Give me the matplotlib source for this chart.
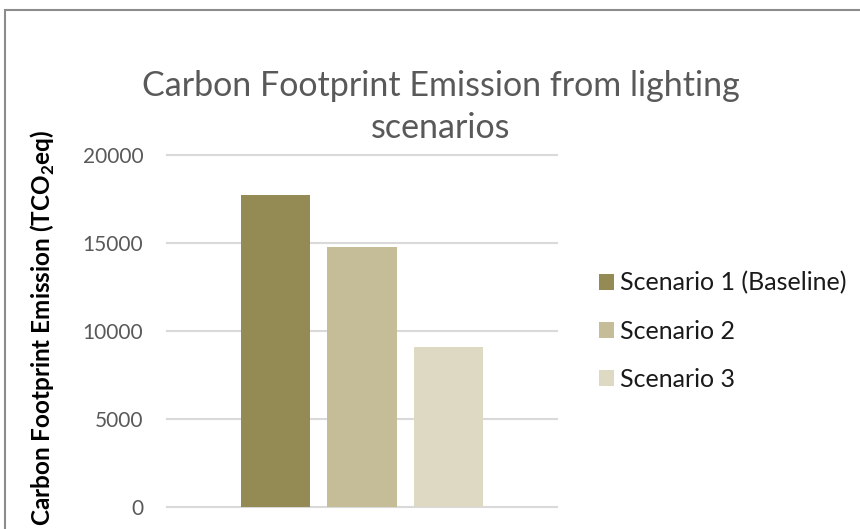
import matplotlib.pyplot as plt
from matplotlib.patches import Rectangle

scenarios = ["Scenario 1 (Baseline)", "Scenario 2", "Scenario 3"]
emissions = [17700, 14800, 9100]
colors = ["#948a54", "#c4bd97", "#ddd9c3"]
yticks = [0, 5000, 10000, 15000, 20000]

plt.rcParams['font.family'] = ['Lato', 'DejaVu Sans']
plt.rcParams['mathtext.fontset'] = 'custom'
plt.rcParams['mathtext.rm'] = 'Lato'
plt.rcParams['mathtext.bf'] = 'Lato:bold'

fig = plt.figure(figsize=(8.6, 5.29), dpi=100)
W, H = 860, 529

# chart frame (cropped on right/bottom)
fig.patches.append(Rectangle((5 / W, -0.2), 1.2, (H - 10) / H + 0.2,
                             transform=fig.transFigure, fill=False,
                             edgecolor="#8c8c8c", linewidth=1.5))

ax = fig.add_axes([167 / W, 22 / H, 390 / W, 352 / H])
pos = [-1, 0, 1]
for x, v, c, lab in zip(pos, emissions, colors, scenarios):
    ax.bar(x, v, width=0.8, color=c, label=lab, zorder=3)

ax.set_xlim(-2.255, 2.255)
ax.set_ylim(0, 20000)
ax.set_yticks(yticks)
ax.set_xticks([])
ax.tick_params(axis='y', length=0, pad=17, labelsize=15, labelcolor="#595959")
ax.yaxis.grid(True, color="#d9d9d9", linewidth=1.5)
for gl in ax.get_ygridlines():
    gl.set_clip_on(False)
for s in ax.spines.values():
    s.set_visible(False)

fig.text(441 / W, 1 - 107 / H, "Carbon Footprint Emission from lighting\nscenarios",
         ha='center', va='center', fontsize=24.5, fontweight='normal',
         color="#595959", linespacing=1.38)

fig.text(43 / W, 1 - 328 / H, r"Carbon Footprint Emission (TCO$_\mathbf{2}$eq)",
         rotation=90, ha='center', va='center', fontsize=17.5, fontweight='bold',
         color="#000000")

fig.legend(loc='center left', bbox_to_anchor=(576 / W, 1 - 331 / H),
           frameon=False, fontsize=18, handlelength=0.6, handleheight=0.6,
           handletextpad=0.25, labelspacing=1.0, labelcolor="#1a1a1a")

fig.savefig("out.png", dpi=100)
